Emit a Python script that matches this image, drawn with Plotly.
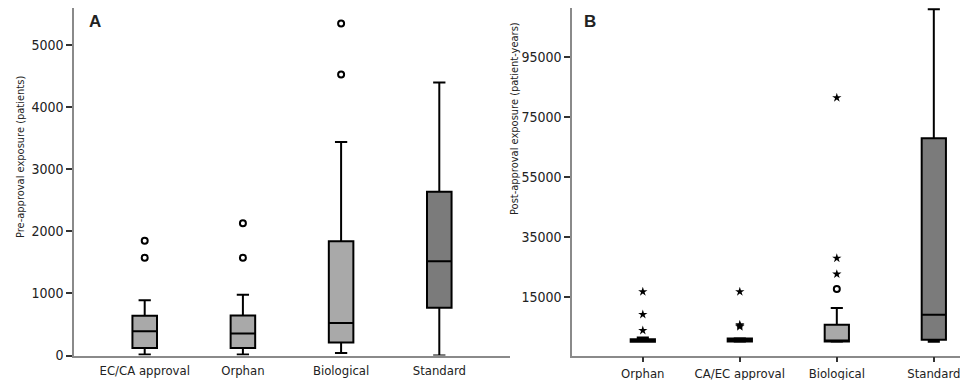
import plotly.graph_objects as go

# ---- Panel A: pre-approval exposure (patients) ----
A_categories = ["EC/CA approval", "Orphan", "Biological", "Standard"]
A_q1 = [120, 120, 210, 770]
A_median = [390, 355, 525, 1520]
A_q3 = [640, 645, 1840, 2640]
A_lower = [15, 15, 40, 0]
A_upper = [890, 980, 3440, 4400]
A_fill = ["#a9a9a9", "#a9a9a9", "#a9a9a9", "#7b7b7b"]
A_out_cat = ["EC/CA approval", "EC/CA approval", "Orphan", "Orphan", "Biological", "Biological"]
A_out_val = [1850, 1575, 2130, 1575, 5350, 4530]

# ---- Panel B: post-approval exposure (patient-years) ----
B_categories = ["Orphan", "CA/EC approval", "Biological", "Standard"]
B_q1 = [0, 100, 100, 650]
B_median = [300, 500, 300, 9000]
B_q3 = [800, 1100, 5650, 67950]
B_lower = [0, 0, 0, 0]
B_upper = [1400, 1200, 11250, 111000]
B_fill = ["#a9a9a9", "#a9a9a9", "#a9a9a9", "#7b7b7b"]
B_star_cat = ["Orphan", "Orphan", "Orphan", "CA/EC approval", "CA/EC approval",
              "CA/EC approval", "CA/EC approval", "Biological", "Biological", "Biological"]
B_star_val = [16700, 9100, 3750, 16700, 5700, 5300, 5000, 81500, 27900, 22600]
B_circ_cat = ["Biological"]
B_circ_val = [17600]

FONT = "Liberation Sans Narrow, DejaVu Sans Condensed, Arial Narrow, sans-serif"

fig = go.Figure()

for i, c in enumerate(A_categories):
    fig.add_trace(go.Box(
        x=[c], q1=[A_q1[i]], median=[A_median[i]], q3=[A_q3[i]],
        lowerfence=[A_lower[i]], upperfence=[A_upper[i]],
        width=0.25, whiskerwidth=0.5, fillcolor=A_fill[i],
        line=dict(color="black", width=2), boxpoints=False,
        xaxis="x", yaxis="y", showlegend=False, hoverinfo="skip"))

fig.add_trace(go.Scatter(
    x=A_out_cat, y=A_out_val, mode="markers", xaxis="x", yaxis="y",
    marker=dict(symbol="circle-open", size=6, color="black", line=dict(width=2)),
    showlegend=False, hoverinfo="skip"))

for i, c in enumerate(B_categories):
    fig.add_trace(go.Box(
        x=[c], q1=[B_q1[i]], median=[B_median[i]], q3=[B_q3[i]],
        lowerfence=[B_lower[i]], upperfence=[B_upper[i]],
        width=0.25, whiskerwidth=0.5, fillcolor=B_fill[i],
        line=dict(color="black", width=2), boxpoints=False,
        xaxis="x2", yaxis="y2", showlegend=False, hoverinfo="skip"))

fig.add_trace(go.Scatter(
    x=B_star_cat, y=B_star_val, mode="markers", xaxis="x2", yaxis="y2",
    marker=dict(symbol="star", size=7, color="black"),
    showlegend=False, hoverinfo="skip"))
fig.add_trace(go.Scatter(
    x=B_circ_cat, y=B_circ_val, mode="markers", xaxis="x2", yaxis="y2",
    marker=dict(symbol="circle-open", size=6, color="black", line=dict(width=2)),
    showlegend=False, hoverinfo="skip"))

W, H = 960, 380
ydom = [1 - 355.5 / H, 1 - 8 / H]
ytickfont = dict(family=FONT, size=14, color="#222")
xtickfont = dict(family=FONT, size=13, color="#222")
axline = dict(showline=True, linecolor="#8a8a8a", linewidth=1.5, showgrid=False,
              zeroline=False, automargin=False)

fig.update_layout(
    width=W, height=H, margin=dict(l=0, r=0, t=0, b=0),
    paper_bgcolor="white", plot_bgcolor="white", boxmode="overlay",
    font=dict(family=FONT, color="#222"),
    xaxis=dict(domain=[74 / W, 510 / W], type="category",
               categoryorder="array", categoryarray=A_categories,
               range=[-0.72, 3.72], ticks="outside", ticklen=2,
               tickcolor="rgba(0,0,0,0)", anchor="y", tickfont=xtickfont, **axline),
    yaxis=dict(domain=ydom, range=[0, 5600], tickvals=[0, 1000, 2000, 3000, 4000, 5000],
               tickformat="d",
               ticks="outside", ticklen=6, tickwidth=2, tickcolor="#333",
               anchor="x", tickfont=ytickfont, **axline),
    xaxis2=dict(domain=[572 / W, 1.0], type="category",
                categoryorder="array", categoryarray=B_categories,
                range=[-0.73, 3.27], ticks="outside", ticklen=5, tickwidth=2,
                tickcolor="#333", anchor="y2", tickfont=xtickfont, **axline),
    yaxis2=dict(domain=ydom, range=[-4600, 111450],
                tickvals=[15000, 35000, 55000, 75000, 95000], tickformat="d",
                ticks="outside", ticklen=6, tickwidth=2, tickcolor="#333",
                anchor="x2", tickfont=ytickfont, **axline),
    annotations=[
        dict(text="Pre-approval exposure (patients)", x=20 / W, y=1 - 157 / H,
             xref="paper", yref="paper", textangle=-90, showarrow=False,
             xanchor="center", yanchor="middle",
             font=dict(family=FONT, size=11, color="#222")),
        dict(text="Post-approval exposure (patient-years)", x=515 / W, y=1 - 119 / H,
             xref="paper", yref="paper", textangle=-90, showarrow=False,
             xanchor="center", yanchor="middle",
             font=dict(family=FONT, size=11, color="#222")),
        dict(text="<b>A</b>", x=95 / W, y=1 - 22 / H, xref="paper", yref="paper",
             showarrow=False, xanchor="center", yanchor="middle",
             font=dict(family="Liberation Sans, Arial, sans-serif", size=17, color="#222")),
        dict(text="<b>B</b>", x=590 / W, y=1 - 22 / H, xref="paper", yref="paper",
             showarrow=False, xanchor="center", yanchor="middle",
             font=dict(family="Liberation Sans, Arial, sans-serif", size=17, color="#222")),
    ],
)

fig.write_html("out.html", config={"displayModeBar": False},
               post_script="document.body.style.margin='0';document.body.style.overflow='hidden';")
